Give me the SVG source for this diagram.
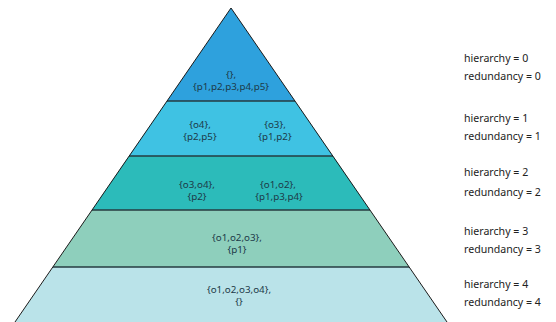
<svg xmlns="http://www.w3.org/2000/svg" width="556" height="322" viewBox="0 0 556 322">
<style>
.lyr{stroke:none}
.sep{stroke:#263b40;stroke-width:1.5;fill:none}
.edge{stroke:#1a1a1a;stroke-width:1;fill:none}
.t{font-family:"Noto Sans","Open Sans",sans-serif;font-size:9.8px;fill:#1d3a48;text-anchor:middle}
.r{font-family:"Noto Sans","Open Sans",sans-serif;font-size:10.6px;fill:#222}
</style>
<rect width="556" height="322" fill="#fff"/>
<g id="level0">
<polygon class="lyr" points="231,8 295,101 167,101" fill="#2ea1dd"/>
<text class="t" x="231" y="78">{},</text>
<text class="t" x="231" y="90">{p1,p2,p3,p4,p5}</text>
</g>
<g id="level1">
<polygon class="lyr" points="167,101 295,101 333,156 129,156" fill="#3fc2e3"/>
<text class="t" x="200" y="128">{o4},</text>
<text class="t" x="200" y="140">{p2,p5}</text>
<text class="t" x="275" y="128">{o3},</text>
<text class="t" x="275" y="140">{p1,p2}</text>
</g>
<g id="level2">
<polygon class="lyr" points="129,156 333,156 370,210 92,210" fill="#2cbbba"/>
<text class="t" x="197" y="188">{o3,o4},</text>
<text class="t" x="197" y="200">{p2}</text>
<text class="t" x="278" y="188">{o1,o2},</text>
<text class="t" x="279" y="200">{p1,p3,p4}</text>
</g>
<g id="level3">
<polygon class="lyr" points="92,210 370,210 409,267 53,267" fill="#8ecfbc"/>
<text class="t" x="237" y="241">{o1,o2,o3},</text>
<text class="t" x="237" y="253">{p1}</text>
</g>
<g id="level4">
<polygon class="lyr" points="53,267 409,267 447,322 15,322" fill="#bae3e9"/>
<text class="t" x="239" y="293">{o1,o2,o3,o4},</text>
<text class="t" x="239" y="305">{}</text>
</g>
<g id="connectors">
<line class="sep" x1="167" y1="101" x2="295" y2="101"/>
<line class="sep" x1="129" y1="156" x2="333" y2="156"/>
<line class="sep" x1="92" y1="210" x2="370" y2="210"/>
<line class="sep" x1="53" y1="267" x2="409" y2="267"/>
<line class="edge" x1="231" y1="8" x2="447" y2="322"/>
<line class="edge" x1="231" y1="8" x2="15" y2="322"/>
</g>
<g id="labels">
<text class="r" x="464" y="62">hierarchy = 0</text>
<text class="r" x="464" y="80">redundancy = 0</text>
<text class="r" x="464" y="122">hierarchy = 1</text>
<text class="r" x="464" y="140">redundancy = 1</text>
<text class="r" x="464" y="176">hierarchy = 2</text>
<text class="r" x="464" y="196">redundancy = 2</text>
<text class="r" x="464" y="235">hierarchy = 3</text>
<text class="r" x="464" y="253">redundancy = 3</text>
<text class="r" x="464" y="288">hierarchy = 4</text>
<text class="r" x="464" y="306">redundancy = 4</text>
</g>
</svg>
